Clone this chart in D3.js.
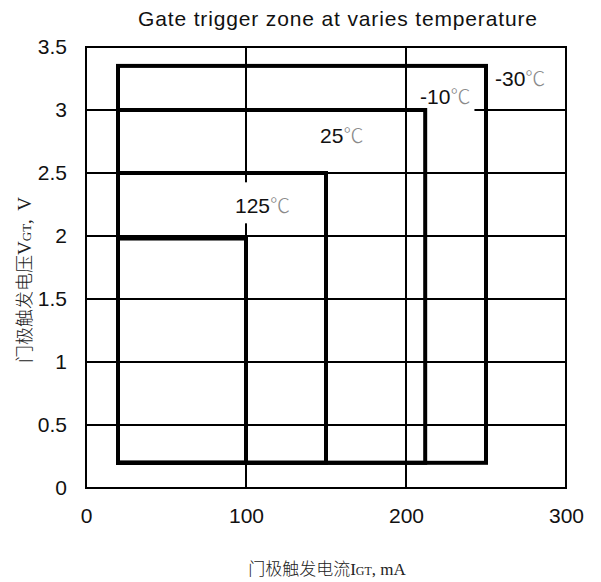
<!DOCTYPE html>
<html>
<head>
<meta charset="utf-8">
<script src="https://cdn.jsdelivr.net/npm/d3@7"></script>
<style>
  html, body { margin: 0; padding: 0; background: #fff; }
  svg { display: block; }
</style>
</head>
<body>
<svg id="chart" width="601" height="582"></svg>
<script>
// ---- data ----
const xTicks = [0, 100, 200, 300];
const yTicks = [0, 0.5, 1, 1.5, 2, 2.5, 3, 3.5];
const temps = ["-30", "-10", "25", "125"];
const igtMin = [20, 20, 20, 20];
const igtMax = [250, 212, 150, 100];
const vgtMin = [0.2, 0.2, 0.2, 0.2];
const vgtMax = [3.35, 3.0, 2.5, 1.98];
const labelX = [255.6, 208.8, 146.3, 93.1];
const labelY = [3.19, 3.05, 2.74, 2.18];
const titleText = "Gate trigger zone at varies temperature";

// ---- layout ----
const svg = d3.select("#chart");
const x = d3.scaleLinear().domain([0, 300]).range([86, 566]);
const y = d3.scaleLinear().domain([0, 3.5]).range([488, 47]);
const SANS = "Liberation Sans, Arial, sans-serif";
const CJK = "Noto Sans CJK SC, sans-serif";
const SERIF = "Liberation Serif, serif";

// grid
const g = svg.append("g");
g.selectAll("line.h").data(yTicks).join("line")
  .attr("x1", x(0)).attr("x2", x(300))
  .attr("y1", d => y(d)).attr("y2", d => y(d))
  .attr("stroke", "#000").attr("stroke-width", 2);
g.selectAll("line.v").data(xTicks).join("line")
  .attr("y1", y(0)).attr("y2", y(3.5))
  .attr("x1", d => x(d)).attr("x2", d => x(d))
  .attr("stroke", "#000").attr("stroke-width", 2);

// zone data
const zones = temps.map((t, i) => ({ t, x0: igtMin[i], x1: igtMax[i], y0: vgtMin[i], y1: vgtMax[i], lx: labelX[i], ly: labelY[i] }));

// zone labels (white backing hides grid lines behind text)
const lg = svg.append("g");
zones.forEach(d => {
  const grp = lg.append("g");
  const bg = grp.append("rect").attr("fill", "#fff");
  const t = grp.append("text")
    .attr("x", x(d.lx)).attr("y", y(d.ly))
    .attr("font-family", SANS)
    .attr("font-size", 21).attr("fill", "#111");
  t.append("tspan").text(d.t);
  t.append("tspan").text("℃").attr("fill", "#8a8a8a")
    .attr("font-family", CJK).attr("font-weight", 300).attr("font-size", 20);
  const b = t.node().getBBox();
  bg.attr("x", b.x - 4).attr("y", b.y - 8).attr("width", b.width + 8).attr("height", b.height + 12);
});

// frame
svg.append("rect")
  .attr("x", x(0)).attr("y", y(3.5))
  .attr("width", x(300) - x(0)).attr("height", y(0) - y(3.5))
  .attr("fill", "none").attr("stroke", "#000").attr("stroke-width", 2);

// zone rectangles
svg.append("g").selectAll("rect").data(zones).join("rect")
  .attr("x", d => x(d.x0)).attr("y", d => y(d.y1))
  .attr("width", d => x(d.x1) - x(d.x0)).attr("height", d => y(d.y0) - y(d.y1))
  .attr("fill", "none").attr("stroke", "#000").attr("stroke-width", 4);

// axes tick labels
const xAxis = d3.axisBottom(x).tickValues(xTicks).tickSize(0).tickPadding(20).tickFormat(d3.format("d"));
const xa = svg.append("g").attr("transform", `translate(0,${y(0)})`).call(xAxis);
xa.select(".domain").remove();
xa.selectAll("text").attr("font-family", SANS).attr("font-size", 21).attr("fill", "#111");

const yAxis = d3.axisLeft(y).tickValues(yTicks).tickSize(0).tickPadding(19).tickFormat(d => String(d));
const ya = svg.append("g").attr("transform", `translate(${x(0)},0)`).call(yAxis);
ya.select(".domain").remove();
ya.selectAll("text").attr("font-family", SANS).attr("font-size", 21).attr("fill", "#111");

// title
svg.append("text")
  .attr("x", 138).attr("y", 26)
  .attr("textLength", 399).attr("lengthAdjust", "spacing")
  .attr("font-family", SANS)
  .attr("font-size", 21).attr("fill", "#111")
  .text(titleText);

// axis titles
const yl = svg.append("text")
  .attr("transform", "translate(31,279) rotate(-90)")
  .attr("text-anchor", "middle")
  .attr("font-size", 18).attr("fill", "#222");
yl.append("tspan").text("门极触发电压").attr("font-family", CJK).attr("font-weight", 300);
yl.append("tspan").text("V").attr("font-family", SERIF).attr("font-size", 19);
yl.append("tspan").text("GT").attr("font-family", SERIF).attr("font-size", 13);
yl.append("tspan").text(", V").attr("font-family", SERIF).attr("font-size", 19).attr("letter-spacing", 2);

const xl = svg.append("text")
  .attr("x", 327).attr("y", 575)
  .attr("text-anchor", "middle")
  .attr("font-size", 17).attr("fill", "#222");
xl.append("tspan").text("门极触发电流").attr("font-family", CJK).attr("font-weight", 300);
xl.append("tspan").text("I").attr("font-family", SERIF);
xl.append("tspan").text("GT").attr("font-family", SERIF).attr("font-size", 12);
xl.append("tspan").text(", mA").attr("font-family", SERIF);
</script>
</body>
</html>
